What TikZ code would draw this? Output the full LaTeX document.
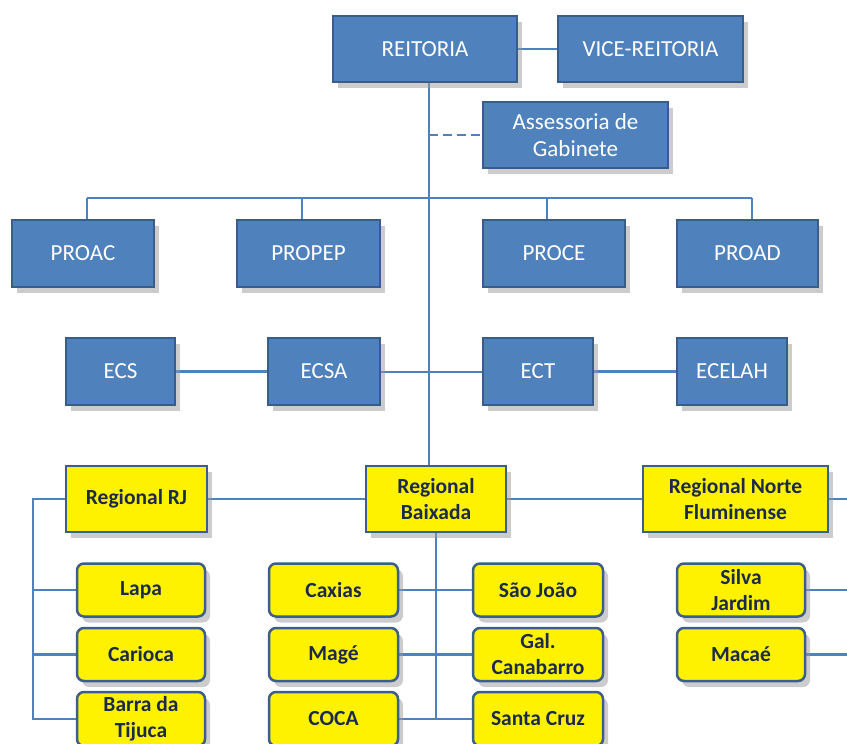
\documentclass[tikz,border=0pt]{standalone}
\usepackage{fontspec}
\setmainfont{Carlito}
\usetikzlibrary{shadows,backgrounds}
\definecolor{boxblue}{HTML}{4F81BD}
\definecolor{edgeblue}{HTML}{385D8A}
\definecolor{ybord}{HTML}{3B5E8C}
\definecolor{navy}{HTML}{1B2A4A}
\tikzset{
  shad/.style={drop shadow={shadow xshift=5pt,shadow yshift=-6pt,fill=black!40,opacity=0.5}},
  bluebox/.style={draw=edgeblue,line width=2.5pt,fill=boxblue,text=white,shad,
    font=\fontsize{23}{27}\selectfont,align=center,inner sep=2pt},
  yelbox/.style={draw=ybord,line width=2.5pt,fill=yellow,text=navy,shad,
    font=\fontsize{21.5}{26}\selectfont\bfseries,align=center,inner sep=2pt},
  unitbox/.style={yelbox,rounded corners=7pt,minimum width=128pt,minimum height=53pt},
  link/.style={draw=boxblue,line width=2.6pt},
}
\begin{document}
\begin{tikzpicture}[x=1pt,y=-1pt]
\useasboundingbox (0,0) rectangle (847,744);
\clip (0,0) rectangle (847,744);
% blue boxes
\node[bluebox,minimum width=184pt,minimum height=66pt] (reit) at (425,49) {REITORIA};
\node[bluebox,minimum width=185pt,minimum height=66pt] (vice) at (650.5,49) {VICE-REITORIA};
\node[bluebox,minimum width=185pt,minimum height=66pt] (asses) at (575.5,135) {Assessoria de\\Gabinete};
\node[bluebox,minimum width=142pt,minimum height=67pt] (proac) at (83,253.5) {PROAC};
\node[bluebox,minimum width=143pt,minimum height=67pt] (propep) at (308.5,253.5) {PROPEP};
\node[bluebox,minimum width=142pt,minimum height=67pt] (proce) at (554,253.5) {PROCE};
\node[bluebox,minimum width=141pt,minimum height=67pt] (proad) at (747.5,253.5) {PROAD};
\node[bluebox,minimum width=109pt,minimum height=67pt] (ecs) at (120.5,371.5) {ECS};
\node[bluebox,minimum width=112pt,minimum height=67pt] (ecsa) at (324,371.5) {ECSA};
\node[bluebox,minimum width=110pt,minimum height=67pt] (ect) at (538,371.5) {ECT};
\node[bluebox,minimum width=110pt,minimum height=67pt] (ecelah) at (732,371.5) {ECELAH};
% regional boxes
\node[yelbox,minimum width=141pt,minimum height=66pt] (rrj) at (136.5,499) {Regional RJ};
\node[yelbox,minimum width=140pt,minimum height=66pt] (rbx) at (436,499) {Regional\\Baixada};
\node[yelbox,minimum width=185pt,minimum height=66pt] (rnf) at (735.5,499) {Regional Norte\\Fluminense};
% units
\node[unitbox] (lapa) at (141,590) {Lapa};
\node[unitbox] (carioca) at (141,654.5) {Carioca};
\node[unitbox,minimum height=54pt] (barra) at (141,719) {Barra da\\Tijuca};
\node[unitbox,minimum width=129pt] (caxias) at (333.5,590) {Caxias};
\node[unitbox,minimum width=129pt] (mage) at (333.5,654.5) {Magé};
\node[unitbox,minimum width=129pt,minimum height=54pt] (coca) at (333.5,719) {COCA};
\node[unitbox,minimum width=130pt] (saojoao) at (538,590) {São João};
\node[unitbox,minimum width=130pt] (gal) at (538,654.5) {Gal.\\Canabarro};
\node[unitbox,minimum width=130pt,minimum height=54pt] (santa) at (538,719) {Santa Cruz};
\node[unitbox] (silva) at (741,590) {Silva\\Jardim};
\node[unitbox] (macae) at (741,654.5) {Macaé};
% junction coordinates
\coordinate (t0) at (429,82);
\coordinate (tdash) at (429,135);
\coordinate (tbus) at (429,198);
\coordinate (t2) at (429,372);
\coordinate (t3) at (429,466);
\coordinate (b1) at (87,198);
\coordinate (b2) at (302,198);
\coordinate (b3) at (547,198);
\coordinate (b4) at (752,198);
\coordinate (rjx) at (33,499);
\coordinate (rj1) at (33,590);
\coordinate (rj2) at (33,654.5);
\coordinate (rj3) at (33,719);
\coordinate (bx0) at (436,532);
\coordinate (bx1) at (436,590);
\coordinate (bx2) at (436,654.5);
\coordinate (bx3) at (436,719);
\coordinate (e1) at (847,499);
\coordinate (e2) at (847,590);
\coordinate (e3) at (847,654.5);
\begin{pgfonlayer}{background}
\draw[link] (reit) -- (vice);
\draw[link] (t0) -- (t3);
\draw[link,dashed,dash pattern=on 9pt off 5pt] (tdash) -- (asses.west);
\draw[link] (b1) -- (b4);
\draw[link] (b1) -- (b1 |- proac.north);
\draw[link] (b2) -- (b2 |- propep.north);
\draw[link] (b3) -- (b3 |- proce.north);
\draw[link] (b4) -- (b4 |- proad.north);
\draw[link] (ecs) -- (ecsa);
\draw[link] (ecsa.east |- t2) -- (ect.west |- t2);
\draw[link] (ect) -- (ecelah);
\draw[link] (rrj) -- (rbx);
\draw[link] (rbx) -- (rnf);
\draw[link] (rnf.east) -- (e1);
\draw[link] (rrj.west) -- (rjx) -- (rj3) -- (barra.west);
\draw[link] (rj1) -- (lapa.west);
\draw[link] (rj2) -- (carioca.west);
\draw[link] (bx0) -- (bx3);
\draw[link] (caxias.east) -- (saojoao.west);
\draw[link] (mage.east) -- (gal.west);
\draw[link] (coca.east) -- (santa.west);
\draw[link] (silva.east) -- (e2);
\draw[link] (macae.east) -- (e3);
\end{pgfonlayer}
\end{tikzpicture}
\end{document}
